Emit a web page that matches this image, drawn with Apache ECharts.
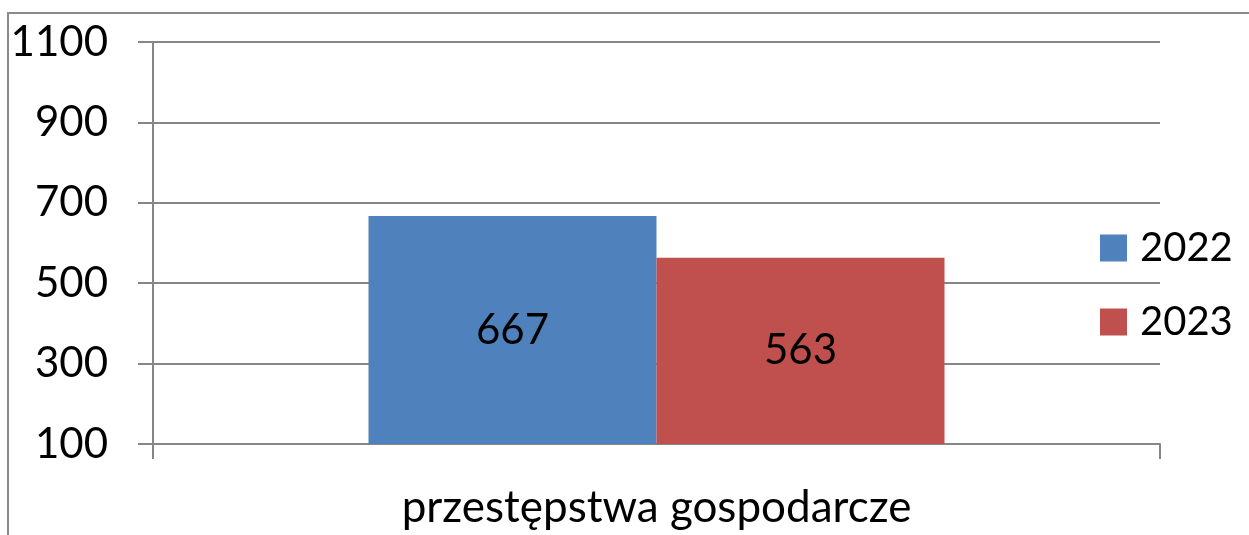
<!DOCTYPE html>
<html>
<head>
<meta charset="utf-8">
<script src="https://cdn.jsdelivr.net/npm/echarts@6/dist/echarts.min.js"></script>
<style>
  html, body { margin: 0; padding: 0; background: #fff; }
  #chart { width: 1249px; height: 535px; }
</style>
</head>
<body>
<div id="chart"></div>
<script>
// dane
var categories = ['przestępstwa gospodarcze']
var seriesNames = ['2022', '2023']
var values2022 = [667]
var values2023 = [563]
var colors = ['#4F81BD', '#C0504D']

var font = 'Lato'
var gray = '#868686'

var chart = echarts.init(document.getElementById('chart'))

chart.setOption({
  animation: false,
  textStyle: { fontFamily: font },
  // ramka wokół wykresu
  graphic: [{
    type: 'polyline',
    shape: { points: [[8, 540], [8, 13], [1260, 13]] },
    style: { stroke: '#8a8a8a', lineWidth: 2, fill: null },
    silent: true
  }],
  grid: {
    left: 153,
    right: 89,
    top: 42,
    bottom: 91
  },
  legend: {
    orient: 'vertical',
    left: 1095,
    top: 221,
    itemWidth: 27,
    itemHeight: 27,
    itemGap: 30,
    icon: 'rect',
    data: seriesNames,
    textStyle: {
      fontFamily: font,
      fontSize: 40,
      color: '#000',
      lineHeight: 44,
      padding: [0, 0, 0, 8]
    }
  },
  xAxis: {
    type: 'category',
    data: categories,
    axisLine: { lineStyle: { color: gray, width: 2 } },
    axisTick: { show: true, length: 15, lineStyle: { color: gray, width: 2 } },
    axisLabel: {
      fontFamily: font,
      fontSize: 44,
      color: '#000',
      margin: 42
    }
  },
  yAxis: {
    type: 'value',
    min: 100,
    max: 1100,
    interval: 200,
    axisLine: { show: true, lineStyle: { color: gray, width: 2 } },
    axisTick: { show: true, length: 15, lineStyle: { color: gray, width: 2 } },
    splitLine: { lineStyle: { color: gray, width: 2 } },
    axisLabel: {
      fontFamily: font,
      fontSize: 42,
      color: '#000',
      margin: 45,
      formatter: function (v) { return String(v) }
    }
  },
  series: [{
    name: seriesNames[0],
    type: 'bar',
    data: values2022,
    barWidth: 288,
    barGap: '0%',
    itemStyle: { color: colors[0] },
    label: {
      show: true,
      position: 'inside',
      fontFamily: font,
      fontSize: 42,
      color: '#000'
    }
  }, {
    name: seriesNames[1],
    type: 'bar',
    data: values2023,
    barWidth: 288,
    barGap: '0%',
    itemStyle: { color: colors[1] },
    label: {
      show: true,
      position: 'inside',
      fontFamily: font,
      fontSize: 42,
      color: '#000'
    }
  }]
})
</script>
</body>
</html>
